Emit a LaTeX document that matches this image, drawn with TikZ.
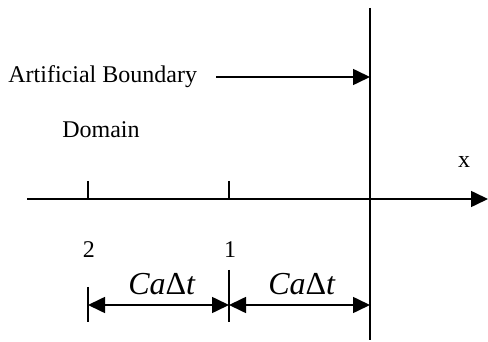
\documentclass[tikz,border=0pt]{standalone}
\usepackage{fontspec}
\setmainfont{Liberation Serif}
\usetikzlibrary{arrows.meta}
\begin{document}
\begin{tikzpicture}[x=0.5pt,y=-0.5pt,
  lbl/.style={font=\fontsize{12}{14}\selectfont, inner sep=0pt},
  dimlbl/.style={font=\fontsize{16}{19}\selectfont, inner sep=0pt},
  tip/.style={-{Triangle[length=8.5pt,width=8pt]}},
  dtip/.style={{Triangle[length=8.5pt,width=8pt]}-{Triangle[length=8.5pt,width=8pt]}},
  axisline/.style={line width=0.8pt},
  thin/.style={line width=0.7pt}]
\useasboundingbox (0,0) rectangle (488,342);
% coordinates
\coordinate (btop) at (370,8);
\coordinate (bbot) at (370,340);
\coordinate (axL) at (27,199);
\coordinate (axR) at (488,199);
\coordinate (t2a) at (88,181);
\coordinate (t2b) at (88,199);
\coordinate (t1a) at (229,181);
\coordinate (t1b) at (229,199);
\coordinate (d2a) at (88,287);
\coordinate (d2b) at (88,322);
\coordinate (d1a) at (229,270);
\coordinate (d1b) at (229,322);
\coordinate (dl) at (88,305);
\coordinate (dm) at (229,305);
\coordinate (dr) at (370,305);
\coordinate (ae) at (370,77);
% boundary line
\draw[line width=1.1pt] (btop) -- (bbot);
% axis
\draw[axisline,tip] (axL) -- (axR);
\draw[thin] (t2a) -- (t2b);
\draw[thin] (t1a) -- (t1b);
% texts
\node[lbl, anchor=west] (ab) at (8,77) {Artificial Boundary};
\coordinate (as) at (216,77);
\draw[axisline,tip] (as) -- (ae);
\node[lbl] (dom) at (101,130) {Domain};
\node[lbl] (xl) at (464,162) {x};
\node[lbl] (n2) at (89,250) {2};
\node[lbl] (n1) at (230,250) {1};
% dimension
\draw[thin] (d2a) -- (d2b);
\draw[thin] (d1a) -- (d1b);
\draw[axisline,dtip] (dl) -- (dm);
\draw[axisline,dtip] (dm) -- (dr);
\node[dimlbl] (c1) at (162,284) {\textit{Ca}Δ\textit{t}};
\node[dimlbl] (c2) at (302,284) {\textit{Ca}Δ\textit{t}};
\end{tikzpicture}
\end{document}
